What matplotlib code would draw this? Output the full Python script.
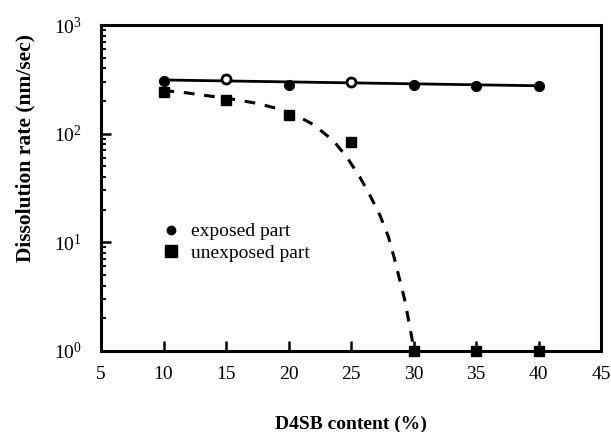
import matplotlib
matplotlib.use("Agg")
import matplotlib.pyplot as plt
from matplotlib.lines import Line2D
from matplotlib.ticker import FixedLocator, LogLocator, NullFormatter, FixedFormatter

plt.rcParams['font.family'] = ['Liberation Serif', 'DejaVu Serif']
plt.rcParams['mathtext.fontset'] = 'custom'
plt.rcParams['mathtext.rm'] = 'Liberation Serif'
plt.rcParams['mathtext.it'] = 'Liberation Serif:italic'
plt.rcParams['mathtext.bf'] = 'Liberation Serif:bold'

# exposed part
exp_x = [10, 15, 20, 25, 30, 35, 40]
exp_y = [305, 319, 281, 298, 281, 275, 275]
exp_hollow = [False, True, False, True, False, False, False]
exp_fit_x = [10, 40]
exp_fit_y = [312, 276]

# unexposed part
unexp_x = [10, 15, 20, 25, 30, 35, 40]
unexp_y = [241, 204, 149, 84, 1, 1, 1]
unexp_fit_x = [10.0, 11.9, 13.7, 15.5, 17.5, 19.3, 20.7, 22.0, 23.6, 24.7, 25.7, 26.5, 27.3, 28.0, 28.5, 28.9, 29.3, 29.6, 29.9, 30.0]
unexp_fit_y = [250, 237, 222, 208, 190, 168, 146, 121, 86, 60, 40, 27.3, 17.9, 11.2, 6.9, 4.5, 2.95, 1.93, 1.26, 1.0]

xticks = [5, 10, 15, 20, 25, 30, 35, 40, 45]
yticks = [1, 10, 100, 1000]
yticklabels = ['10$^{0}$', '10$^{1}$', '10$^{2}$', '10$^{3}$']

fig = plt.figure(figsize=(6.11, 4.32), dpi=100)
ax = fig.add_axes([101/611, 1-351/432, 500/611, 326/432])

ax.plot(exp_fit_x, exp_fit_y, color='black', lw=2.0, zorder=2)
ax.plot(unexp_fit_x, unexp_fit_y, color='black', lw=2.2, dashes=(3.5, 3.2), zorder=2)

for x, y, h in zip(exp_x, exp_y, exp_hollow):
    ax.plot([x], [y], 'o', ms=6.5 if h else 6,
            mfc='white' if h else 'black', mec='black', mew=2.0, zorder=3)
ax.plot(unexp_x, unexp_y, 's', ms=7.5, color='black', zorder=3, clip_on=False)

ax.set_yscale('log')
ax.set_xlim(5, 45)
ax.set_ylim(1, 1000)

ax.xaxis.set_major_locator(FixedLocator(xticks))
ax.set_xticklabels([str(t) for t in xticks])
ax.yaxis.set_major_locator(FixedLocator(yticks))
ax.yaxis.set_major_formatter(FixedFormatter(yticklabels))
ax.yaxis.set_minor_locator(LogLocator(base=10, subs=range(2, 10)))
ax.yaxis.set_minor_formatter(NullFormatter())

ax.tick_params(axis='both', which='major', direction='in', length=7, width=1.8,
               labelsize=14, top=False, right=False)
ax.tick_params(axis='y', which='minor', direction='in', length=3.5, width=1.5, right=False)
ax.tick_params(axis='x', pad=11)
ax.tick_params(axis='y', pad=14)

for s in ax.spines.values():
    s.set_linewidth(2.2)

ax.set_xlabel('D4SB content (%)', fontsize=14, fontweight='bold', labelpad=23)
fig.text(25/611, 1-148/432, 'Dissolution rate (nm/sec)', rotation=90,
         fontsize=15.5, fontweight='bold', ha='center', va='center')

handles = [Line2D([], [], marker='o', ls='none', color='black', ms=6),
           Line2D([], [], marker='s', ls='none', color='black', ms=8)]
ax.legend(handles, ['exposed part', 'unexposed part'], frameon=False,
          loc='upper left', bbox_to_anchor=(152/611, 1-213/432),
          bbox_transform=fig.transFigure, fontsize=14, handlelength=1.0,
          handletextpad=0.5, labelspacing=0.2, borderpad=0)

fig.savefig('out.png', dpi=100)
